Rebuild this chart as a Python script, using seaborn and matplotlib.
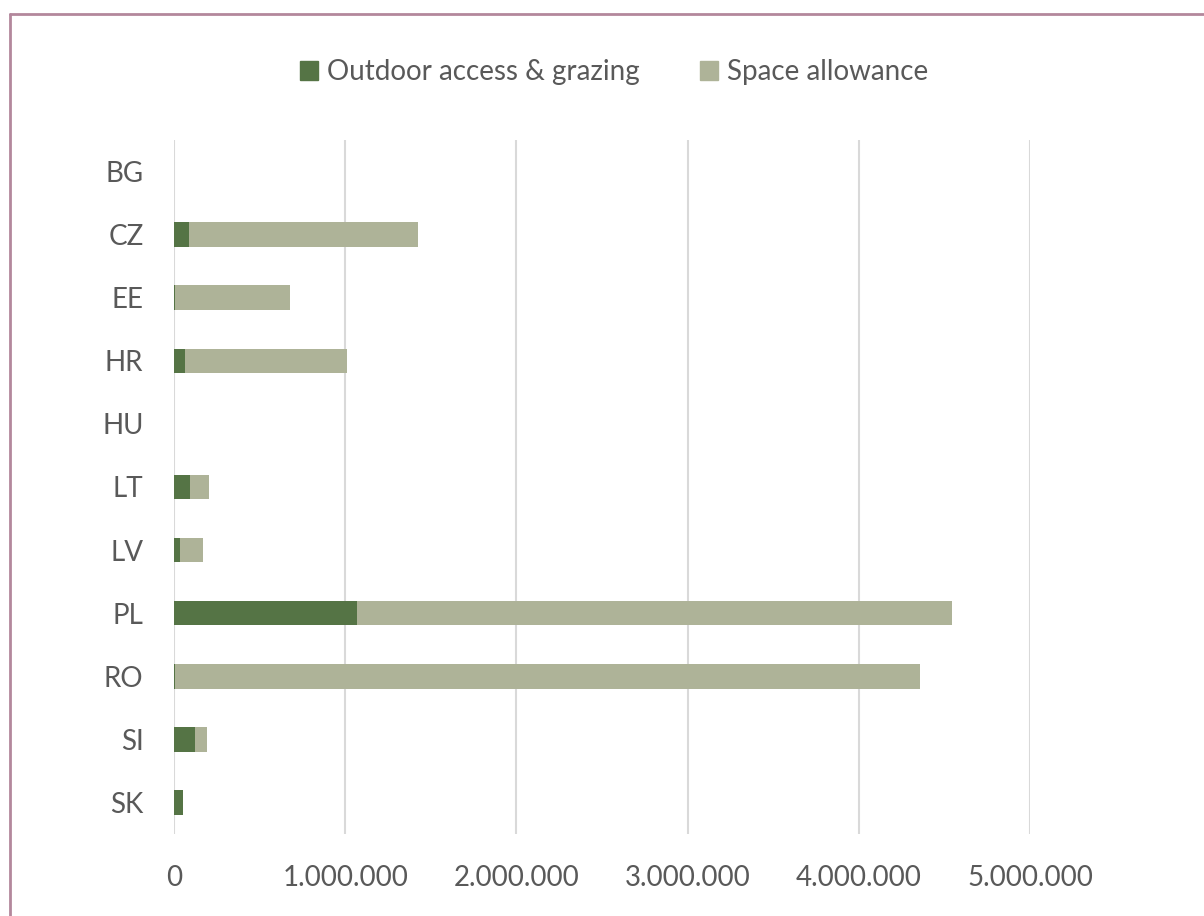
import matplotlib
matplotlib.use("Agg")
import matplotlib.pyplot as plt
import matplotlib.ticker as mticker
from matplotlib.lines import Line2D
from matplotlib.patches import Patch
import seaborn as sns
import pandas as pd

# data
countries = ["BG", "CZ", "EE", "HR", "HU", "LT", "LV", "PL", "RO", "SI", "SK"]
outdoor = [0, 88000, 5000, 62000, 0, 93000, 35000, 1068000, 3000, 125000, 51000]
space = [0, 1335000, 675000, 947000, 0, 111000, 132000, 3477000, 4356000, 66000, 0]

dark = "#557445"
light = "#aeb398"
txt = "#595959"

df = pd.DataFrame({"country": countries, "outdoor": outdoor, "space": space})
df["total"] = df["outdoor"] + df["space"]

sns.set_style("white")
plt.rcParams["font.family"] = ["Lato", "DejaVu Sans"]

fig = plt.figure(figsize=(12.04, 9.16), dpi=100)
ax = fig.add_axes([174 / 1204, 1 - 834 / 916, (1030 - 174) / 1204, (834 - 140) / 916])

sns.barplot(data=df, y="country", x="total", order=countries, color=light,
            width=0.39, orient="h", ax=ax, saturation=1, linewidth=0)
sns.barplot(data=df, y="country", x="outdoor", order=countries, color=dark,
            width=0.39, orient="h", ax=ax, saturation=1, linewidth=0)

ax.set_xlim(0, 5000000)
ax.xaxis.set_major_locator(mticker.MultipleLocator(1000000))
ax.xaxis.set_major_formatter(mticker.FuncFormatter(lambda v, p: f"{int(v):,}".replace(",", ".")))
ax.grid(axis="x", color="#d9d9d9", linewidth=1.5)
ax.set_axisbelow(True)
for s in ax.spines.values():
    s.set_visible(False)
ax.set_xlabel("")
ax.set_ylabel("")
ax.tick_params(axis="both", length=0, labelsize=20, labelcolor=txt)
ax.tick_params(axis="y", pad=22)
ax.tick_params(axis="x", pad=22)

handles = [Patch(color=dark, label="Outdoor access & grazing"),
           Patch(color=light, label="Space allowance")]
leg = fig.legend(handles=handles, loc="center", bbox_to_anchor=(0.51, 1 - 72 / 916),
                 ncol=2, frameon=False, fontsize=20, handlelength=0.65, handleheight=0.65,
                 handletextpad=0.3, columnspacing=2.2)
for t in leg.get_texts():
    t.set_color(txt)

# frame around chart
bc = "#b3879c"
fig.add_artist(Line2D([10 / 1204, 10 / 1204], [0, 1 - 14 / 916], color=bc, linewidth=2, transform=fig.transFigure))
fig.add_artist(Line2D([10 / 1204, 1], [1 - 14 / 916, 1 - 14 / 916], color=bc, linewidth=2, transform=fig.transFigure))

fig.savefig("out.png", dpi=100)
